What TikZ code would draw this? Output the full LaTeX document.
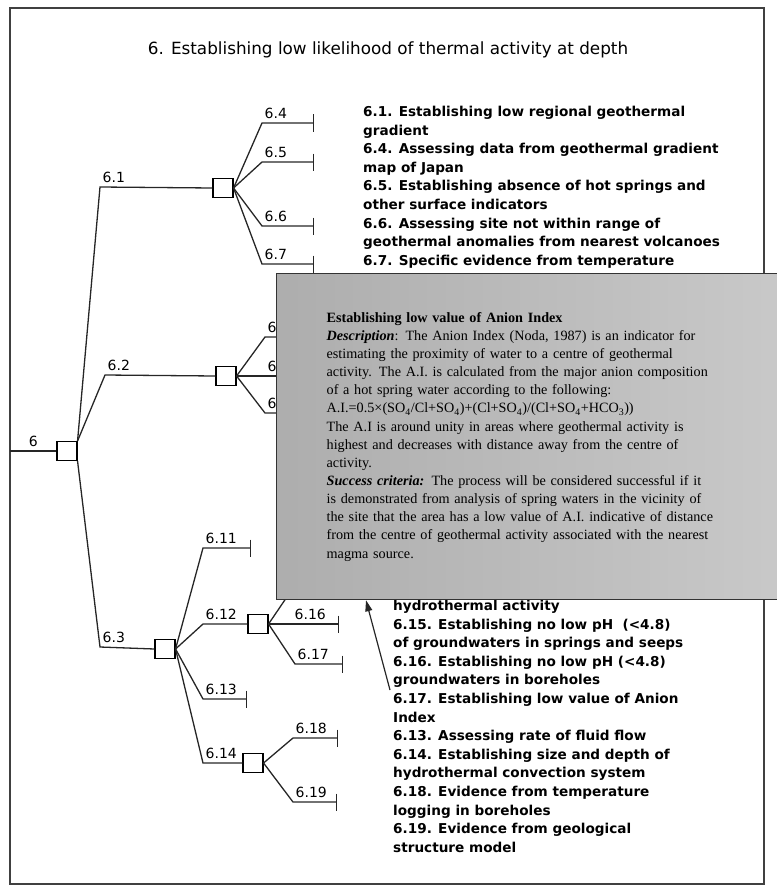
\documentclass[tikz,border=0pt]{standalone}
\usepackage{fontspec}
\setmainfont{DejaVu Sans}
\newfontfamily\boxfont{Liberation Serif}
\usetikzlibrary{arrows.meta,positioning,calc}

\begin{document}
\begin{tikzpicture}[x=1pt, y=-1pt,
  gate/.style={rectangle, draw, fill=white, minimum width=20pt,
               minimum height=19pt, inner sep=0pt, line width=1.1pt},
  branch/.style={draw=black!85, line width=1.3pt},
  leaf/.style={branch, -{Bar[width=17pt, line width=1.3pt]}},
  tag/.style={font=\fontsize{14}{16}\selectfont, inner sep=0pt,
              anchor=south west, xshift=2pt, yshift=4pt},
  listing/.style={font=\fontsize{13.6}{18.6}\selectfont\bfseries,
                  align=left, anchor=north west, inner sep=0pt},
  infobox/.style={rectangle, draw=black!80, line width=1.3pt,
                  left color=black!32, right color=black!21,
                  anchor=north west, minimum width=520pt, minimum height=326pt,
                  text width=420pt, align=left, inner sep=0pt,
                  font=\boxfont\fontsize{14.2}{18.15}\selectfont},
  pointer/.style={-{Triangle[length=11pt, width=7pt]}, line width=1.2pt, draw=black!85}
]
  \useasboundingbox (0,0) rectangle (776,888);
  \draw[line width=1.2pt, black!75] (10,8) rectangle (764,884);

  \node[font=\fontsize{16.8}{20}\selectfont] (title) at (388,50)
    {6. Establishing low likelihood of thermal activity at depth};

  % gates
  \node[gate] (n6)   at (67,451)  {};
  \node[gate] (n61)  at (223,188) {};
  \node[gate] (n62)  at (226,376) {};
  \node[gate] (n63)  at (165,649) {};
  \node[gate] (n612) at (258,624) {};
  \node[gate] (n614) at (253,763) {};

  % corners and ends
  \coordinate (c6)   at (10,451);
  \coordinate (c61)  at (100,187);
  \coordinate (c62)  at (105,375);
  \coordinate (c63)  at (100,647);
  \coordinate (c64)  at (262,123);  \coordinate (e64)  at (314,123);
  \coordinate (c65)  at (262,162);  \coordinate (e65)  at (314,162);
  \coordinate (c66)  at (262,226);  \coordinate (e66)  at (314,226);
  \coordinate (c67)  at (262,264);  \coordinate (e67)  at (314,264);
  \coordinate (c68)  at (265,337);  \coordinate (e68)  at (330,337);
  \coordinate (c69)  at (265,376);  \coordinate (e69)  at (330,376);
  \coordinate (c610) at (265,413);  \coordinate (e610) at (330,413);
  \coordinate (c611) at (203,548);  \coordinate (e611) at (251,548);
  \coordinate (c612) at (203,624);
  \coordinate (c613) at (203,699);  \coordinate (e613) at (247,699);
  \coordinate (c614) at (203,763);
  \coordinate (c615) at (295,585);  \coordinate (e615) at (340,585);
  \coordinate (c616) at (292,624);  \coordinate (e616) at (339,624);
  \coordinate (c617) at (295,664);  \coordinate (e617) at (343,664);
  \coordinate (c618) at (293,738);  \coordinate (e618) at (338,738);
  \coordinate (c619) at (293,802);  \coordinate (e619) at (337,802);

  % root
  \draw[branch] (c6) -- node[above=4pt, font=\fontsize{14}{16}\selectfont, inner sep=0pt] {6} (n6.west);
  \draw[branch] (n6.north east) -- (c61) node[tag] {6.1} -- (n61.west);
  \draw[branch] (n6.north east) -- (c62) node[tag] {6.2} -- (n62.west);
  \draw[branch] (n6.south east) -- (c63) node[tag] {6.3} -- (n63.west);

  % 6.1
  \draw[leaf] (n61.east) -- (c64) node[tag] {6.4} -- (e64);
  \draw[leaf] (n61.east) -- (c65) node[tag] {6.5} -- (e65);
  \draw[leaf] (n61.east) -- (c66) node[tag] {6.6} -- (e66);
  \draw[leaf] (n61.east) -- (c67) node[tag] {6.7} -- (e67);

  % 6.2
  \draw[branch] (n62.east) -- (c68) node[tag] {6.8} -- (e68);
  \draw[branch] (n62.east) -- (c69) node[tag] {6.9} -- (e69);
  \draw[branch] (n62.east) -- (c610) node[tag] {6.10} -- (e610);

  % 6.3
  \draw[leaf] (n63.east) -- (c611) node[tag] {6.11} -- (e611);
  \draw[branch] (n63.east) -- (c612) node[tag] {6.12} -- (n612.west);
  \draw[leaf] (n63.east) -- (c613) node[tag] {6.13} -- (e613);
  \draw[branch] (n63.east) -- (c614) node[tag] {6.14} -- (n614.west);

  \draw[branch] (n612.east) -- (c615) -- (e615);
  \draw[leaf] (n612.east) -- (c616) node[tag] {6.16} -- (e616);
  \draw[leaf] (n612.east) -- (c617) node[tag] {6.17} -- (e617);

  \draw[leaf] (n614.east) -- (c618) node[tag] {6.18} -- (e618);
  \draw[leaf] (n614.east) -- (c619) node[tag] {6.19} -- (e619);

  % lists
  \node[listing] (top) at (363,106) {%
    6.1. Establishing low regional geothermal\\
    gradient\\
    6.4. Assessing data from geothermal gradient\\
    map of Japan\\
    6.5. Establishing absence of hot springs and\\
    other surface indicators\\
    6.6. Assessing site not within range of\\
    geothermal anomalies from nearest volcanoes\\
    6.7. Specific evidence from temperature};

  \node[listing] (bottom) at (393,600) {%
    hydrothermal activity\\
    6.15. Establishing no low pH\ \ (<4.8)\\
    of groundwaters in springs and seeps\\
    6.16. Establishing no low pH (<4.8)\\
    groundwaters in boreholes\\
    6.17. Establishing low value of Anion\\
    Index\\
    6.13. Assessing rate of fluid flow\\
    6.14. Establishing size and depth of\\
    hydrothermal convection system\\
    6.18. Evidence from temperature\\
    logging in boreholes\\
    6.19. Evidence from geological\\
    structure model};

  % anion index box
  \node[infobox] (ai) at (276,273) {%
    \textbf{Establishing low value of Anion Index}\\
    \textbf{\textit{Description}}: The Anion Index (Noda, 1987) is an indicator for\\
    estimating the proximity of water to a centre of geothermal\\
    activity. The A.I. is calculated from the major anion composition\\
    of a hot spring water according to the following:\\
    A.I.=0.5×(SO\textsubscript{4}/Cl+SO\textsubscript{4})+(Cl+SO\textsubscript{4})/(Cl+SO\textsubscript{4}+HCO\textsubscript{3}))\\
    The A.I is around unity in areas where geothermal activity is\\
    highest and decreases with distance away from the centre of\\
    activity.\\
    \textbf{\textit{Success criteria:}} The process will be considered successful if it\\
    is demonstrated from analysis of spring waters in the vicinity of\\
    the site that the area has a low value of A.I. indicative of distance\\
    from the centre of geothermal activity associated with the nearest\\
    magma source.};

  \coordinate (ptail) at (390,690);
  \draw[pointer] (ptail) -- ($(ai.south west)+(90,0)$);
\end{tikzpicture}
\end{document}
